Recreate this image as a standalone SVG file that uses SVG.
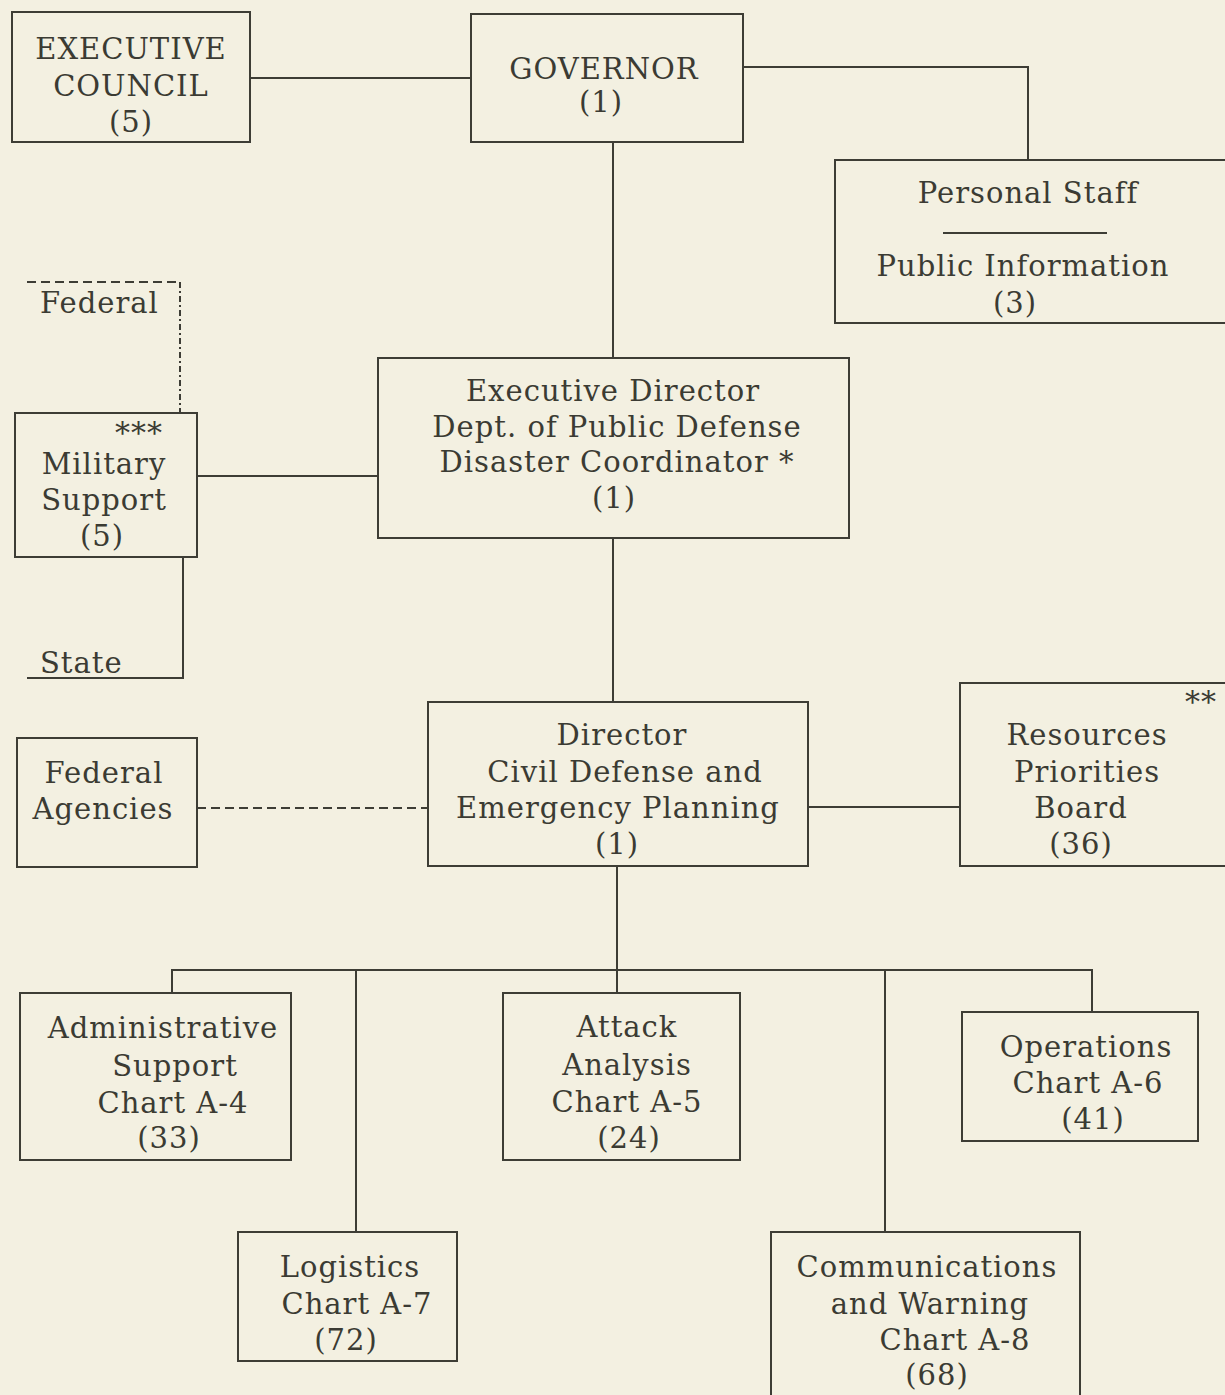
<svg xmlns="http://www.w3.org/2000/svg" width="1225" height="1395" viewBox="0 0 1225 1395">
<style>
.bg{fill:#f3f0e1}
.box{fill:none;stroke:#3d3d35;stroke-width:2}
.ln{fill:none;stroke:#3d3d35;stroke-width:2}
.dash{fill:none;stroke:#3d3d35;stroke-width:2;stroke-dasharray:9,5}
.dashdot{fill:none;stroke:#3d3d35;stroke-width:2;stroke-dasharray:6,3,2,3}
text{font-family:"DejaVu Serif","Liberation Serif",serif;font-size:29px;fill:#3b3b33;text-anchor:middle;letter-spacing:1px}
.st{font-size:30px;letter-spacing:1px}
.l{text-anchor:start}
</style>
<rect class="bg" x="0" y="0" width="1225" height="1395"/>
<g id="connectors">
<path class="ln" d="M250,78 H471"/>
<path class="ln" d="M743,67 H1028 V160"/>
<path class="ln" d="M613,142 V358"/>
<path class="ln" d="M197,476 H378"/>
<path class="ln" d="M613,538 V702"/>
<path class="dash" d="M197,808 H428"/>
<path class="ln" d="M808,807 H960"/>
<path class="ln" d="M617,866 V993"/>
<path class="ln" d="M172,993 V970 H1092 V1012"/>
<path class="ln" d="M356,970 V1232"/>
<path class="ln" d="M885,970 V1232"/>
<path class="ln" d="M183,557 V678 H27"/>
<path class="dash" d="M27,282 H181"/>
<path class="dashdot" d="M180,282 V413"/>
</g>
<g id="executive-council">
<rect class="box" x="12" y="12" width="238" height="130"/>
<text x="131" y="59">EXECUTIVE</text>
<text x="131" y="96">COUNCIL</text>
<text x="131" y="132">(5)</text>
</g>
<g id="governor">
<rect class="box" x="471" y="14" width="272" height="128"/>
<text x="604" y="79">GOVERNOR</text>
<text x="601" y="112">(1)</text>
</g>
<g id="personal-staff">
<path class="box" d="M1225,160 H835 V323 H1225"/>
<text x="1028" y="203">Personal Staff</text>
<path class="ln" d="M943,233 H1107"/>
<text x="1023" y="276">Public Information</text>
<text x="1015" y="313">(3)</text>
</g>
<g id="federal-label">
<text class="l" x="40" y="313">Federal</text>
</g>
<g id="state-label">
<text class="l" x="40" y="673">State</text>
</g>
<g id="military-support">
<rect class="box" x="15" y="413" width="182" height="144"/>
<text class="st" x="139" y="443">***</text>
<text x="104" y="474">Military</text>
<text x="104" y="510">Support</text>
<text x="102" y="546">(5)</text>
</g>
<g id="executive-director">
<rect class="box" x="378" y="358" width="471" height="180"/>
<text x="613" y="401">Executive Director</text>
<text x="617" y="437">Dept. of Public Defense</text>
<text x="617" y="472">Disaster Coordinator *</text>
<text x="614" y="508">(1)</text>
</g>
<g id="federal-agencies">
<rect class="box" x="17" y="738" width="180" height="129"/>
<text x="104" y="783">Federal</text>
<text x="103" y="819">Agencies</text>
</g>
<g id="director">
<rect class="box" x="428" y="702" width="380" height="164"/>
<text x="622" y="745">Director</text>
<text x="625" y="782">Civil Defense and</text>
<text x="618" y="818">Emergency Planning</text>
<text x="617" y="854">(1)</text>
</g>
<g id="resources-priorities-board">
<path class="box" d="M1225,683 H960 V866 H1225"/>
<text class="st" x="1201" y="712">**</text>
<text x="1087" y="745">Resources</text>
<text x="1087" y="782">Priorities</text>
<text x="1081" y="818">Board</text>
<text x="1081" y="854">(36)</text>
</g>
<g id="administrative-support">
<rect class="box" x="20" y="993" width="271" height="167"/>
<text x="163" y="1038">Administrative</text>
<text x="175" y="1076">Support</text>
<text x="173" y="1113">Chart A-4</text>
<text x="169" y="1148">(33)</text>
</g>
<g id="attack-analysis">
<rect class="box" x="503" y="993" width="237" height="167"/>
<text x="627" y="1037">Attack</text>
<text x="627" y="1075">Analysis</text>
<text x="627" y="1112">Chart A-5</text>
<text x="629" y="1148">(24)</text>
</g>
<g id="operations">
<rect class="box" x="962" y="1012" width="236" height="129"/>
<text x="1086" y="1057">Operations</text>
<text x="1088" y="1093">Chart A-6</text>
<text x="1093" y="1129">(41)</text>
</g>
<g id="logistics">
<rect class="box" x="238" y="1232" width="219" height="129"/>
<text x="350" y="1277">Logistics</text>
<text x="357" y="1314">Chart A-7</text>
<text x="346" y="1350">(72)</text>
</g>
<g id="communications-warning">
<path class="box" d="M771,1395 V1232 H1080 V1395"/>
<text x="927" y="1277">Communications</text>
<text x="930" y="1314">and Warning</text>
<text x="955" y="1350">Chart A-8</text>
<text x="937" y="1385">(68)</text>
</g>
</svg>
